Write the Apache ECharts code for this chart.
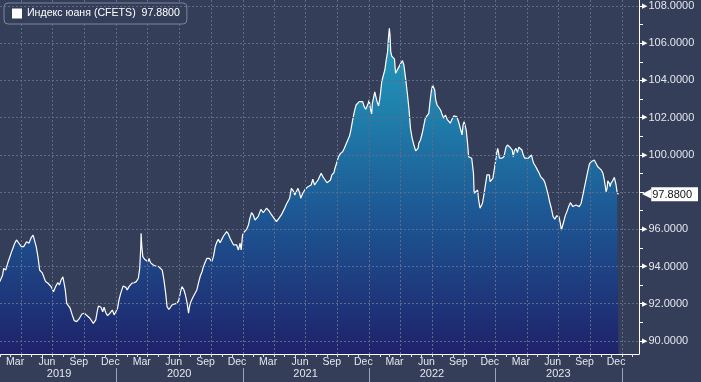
<!DOCTYPE html>
<html><head><meta charset="utf-8">
<script src="https://cdn.jsdelivr.net/npm/echarts@6/dist/echarts.min.js"></script>
<style>html,body{margin:0;padding:0;background:#353e59;}#c{width:701px;height:382px;}</style>
</head><body><div id="c"></div>
<script>
const seriesName = 'Индекс юаня (CFETS)';
const lastValue = 97.88;
const dates = [
'2019-01-30','2019-02-07','2019-02-10','2019-02-16','2019-02-23','2019-03-05','2019-03-14','2019-03-19','2019-03-26','2019-04-02','2019-04-09','2019-04-17','2019-04-24','2019-05-01','2019-05-06','2019-05-10','2019-05-15','2019-05-20','2019-05-25','2019-06-02','2019-06-06','2019-06-11','2019-06-18','2019-06-23','2019-06-27','2019-07-04','2019-07-10','2019-07-16','2019-07-21','2019-07-26','2019-07-31','2019-08-05','2019-08-07','2019-08-11','2019-08-16','2019-08-21','2019-08-27','2019-09-02','2019-09-09','2019-09-17','2019-09-24','2019-10-01','2019-10-10','2019-10-17','2019-10-27','2019-11-03','2019-11-08','2019-11-11','2019-11-18','2019-11-23','2019-11-27','2019-12-02','2019-12-07','2019-12-14','2019-12-21','2019-12-26','2019-12-31',
'2020-01-05','2020-01-09','2020-01-14','2020-01-21','2020-01-29','2020-02-02','2020-02-07','2020-02-15','2020-02-22','2020-02-28','2020-03-05','2020-03-09','2020-03-12','2020-03-13','2020-03-15','2020-03-18','2020-03-23','2020-03-28','2020-04-02','2020-04-05','2020-04-09','2020-04-14','2020-04-17','2020-04-24','2020-05-03','2020-05-13','2020-05-18','2020-05-23','2020-05-27','2020-06-01','2020-06-06','2020-06-10','2020-06-18','2020-06-25','2020-06-30','2020-07-05','2020-07-09','2020-07-14','2020-07-19','2020-07-24','2020-07-26','2020-07-28','2020-07-30','2020-08-02','2020-08-07','2020-08-12','2020-08-17','2020-08-21','2020-08-26','2020-08-31','2020-09-05','2020-09-09','2020-09-14','2020-09-19','2020-09-26','2020-10-03','2020-10-08','2020-10-13','2020-10-18','2020-10-22','2020-10-27','2020-11-01','2020-11-06','2020-11-11','2020-11-15','2020-11-20','2020-11-25','2020-11-30','2020-12-05','2020-12-10','2020-12-14','2020-12-19','2020-12-24','2020-12-27','2020-12-31',
'2021-01-05','2021-01-12','2021-01-17','2021-01-21','2021-01-26','2021-01-31','2021-02-05','2021-02-09','2021-02-14','2021-02-22','2021-03-01','2021-03-06','2021-03-10','2021-03-17','2021-03-25','2021-04-01','2021-04-08','2021-04-15','2021-04-22','2021-04-30','2021-05-07','2021-05-11','2021-05-16','2021-05-21','2021-05-26','2021-05-31','2021-06-04','2021-06-09','2021-06-14','2021-06-17','2021-06-23','2021-06-30','2021-07-08','2021-07-17','2021-07-22','2021-07-27','2021-08-01','2021-08-06','2021-08-10','2021-08-15','2021-08-20','2021-08-25','2021-09-01','2021-09-06','2021-09-11','2021-09-15','2021-09-21','2021-09-24','2021-09-30','2021-10-04','2021-10-10','2021-10-16','2021-10-21','2021-10-26','2021-10-31','2021-11-05','2021-11-09','2021-11-14','2021-11-19','2021-11-24','2021-11-28','2021-12-03','2021-12-08','2021-12-13','2021-12-18','2021-12-22','2021-12-25','2021-12-29',
'2022-01-01','2022-01-04','2022-01-08','2022-01-10','2022-01-13','2022-01-17','2022-01-20','2022-01-25','2022-01-28','2022-01-31','2022-02-03','2022-02-06','2022-02-11','2022-02-15','2022-02-19','2022-02-23','2022-02-25','2022-02-28','2022-03-02','2022-03-04','2022-03-07','2022-03-12','2022-03-15','2022-03-18','2022-03-23','2022-03-28','2022-04-02','2022-04-07','2022-04-09','2022-04-11','2022-04-16','2022-04-21','2022-04-26','2022-04-30','2022-05-05','2022-05-10','2022-05-15','2022-05-18','2022-05-22','2022-05-24','2022-05-29','2022-06-03','2022-06-08','2022-06-12','2022-06-17','2022-06-22','2022-06-25','2022-06-29','2022-07-03','2022-07-07','2022-07-09','2022-07-12','2022-07-16','2022-07-21','2022-07-26','2022-07-30','2022-08-04','2022-08-09','2022-08-14','2022-08-19','2022-08-23','2022-08-28','2022-09-02','2022-09-07','2022-09-11','2022-09-16','2022-09-21','2022-09-26','2022-09-29','2022-10-02','2022-10-05','2022-10-08','2022-10-12','2022-10-15','2022-10-20','2022-10-24','2022-10-27','2022-10-29','2022-10-31','2022-11-05','2022-11-10','2022-11-13','2022-11-17','2022-11-20','2022-11-24','2022-11-29','2022-12-04','2022-12-07','2022-12-11','2022-12-14','2022-12-16','2022-12-19','2022-12-24','2022-12-27','2022-12-31',
'2023-01-04','2023-01-07','2023-01-09','2023-01-12','2023-01-19','2023-01-25','2023-01-31','2023-02-04','2023-02-10','2023-02-13','2023-02-18','2023-02-21','2023-02-24','2023-03-01','2023-03-05','2023-03-09','2023-03-14','2023-03-18','2023-03-22','2023-03-26','2023-03-31','2023-04-05','2023-04-10','2023-04-15','2023-04-18','2023-04-21','2023-04-27','2023-05-01','2023-05-07','2023-05-11','2023-05-16','2023-05-20','2023-05-24','2023-05-28','2023-06-02','2023-06-06','2023-06-11','2023-06-16','2023-06-21','2023-06-26','2023-06-30','2023-07-03','2023-07-07','2023-07-10','2023-07-15','2023-07-18','2023-07-21','2023-07-26','2023-07-31','2023-08-05','2023-08-08','2023-08-12','2023-08-17','2023-08-21','2023-08-26','2023-08-31','2023-09-05','2023-09-10','2023-09-15','2023-09-20','2023-09-24','2023-09-29','2023-10-04','2023-10-09','2023-10-13','2023-10-18','2023-10-23','2023-10-28','2023-11-02','2023-11-07','2023-11-11','2023-11-14','2023-11-16','2023-11-19','2023-11-21','2023-11-24','2023-11-26','2023-11-28','2023-11-30','2023-12-05','2023-12-10','2023-12-12','2023-12-15','2023-12-18','2023-12-20','2023-12-22'
];
const values = [
93.19,93.55,93.90,93.81,94.26,94.80,95.25,95.43,95.25,95.07,95.07,95.33,95.25,95.57,95.69,95.64,95.07,94.53,93.81,93.64,93.67,93.19,93.10,93.19,92.92,92.65,92.92,93.13,93.01,93.28,93.45,93.55,92.74,92.02,91.93,91.76,91.40,91.09,91.04,91.22,91.45,91.49,91.34,91.22,90.95,91.13,91.66,91.88,91.81,91.57,91.81,91.52,91.36,91.49,91.66,91.40,91.57,
91.76,92.20,92.56,92.95,92.88,92.74,92.92,93.10,93.13,93.19,93.37,93.90,95.07,95.79,95.07,94.53,94.39,94.35,94.26,94.44,94.21,94.31,94.08,94.03,93.99,93.81,93.27,92.56,91.84,91.70,91.81,91.93,91.99,92.02,92.20,92.65,92.92,92.78,92.47,92.02,91.76,91.49,91.76,92.02,92.24,92.43,92.52,92.74,93.13,93.49,93.72,93.99,94.23,94.44,94.44,94.26,94.53,95.07,95.33,95.46,95.28,95.46,95.64,95.69,95.87,95.75,95.52,95.43,95.16,95.07,95.16,94.89,95.25,94.89,95.69,
95.87,96.00,96.23,96.59,96.89,96.77,96.50,96.41,96.68,97.07,96.89,96.81,97.13,97.00,96.77,96.59,96.41,96.59,96.77,97.07,97.36,97.31,97.67,98.20,98.08,97.84,97.75,98.20,97.94,97.67,97.94,98.15,98.29,98.38,98.69,98.38,98.47,98.65,98.74,99.01,98.83,98.69,98.50,98.42,98.65,98.92,99.04,99.28,99.63,99.90,100.08,100.17,100.35,100.30,100.80,101.01,101.34,101.87,102.32,102.68,102.68,102.86,102.91,102.86,102.56,102.45,102.45,102.77,
102.95,102.50,102.20,102.77,103.04,103.39,103.13,102.77,102.63,102.95,103.39,103.93,104.29,104.56,105.10,105.54,106.17,106.80,106.44,105.54,105.31,105.24,105.14,104.38,104.41,104.74,104.92,105.06,105.10,104.83,104.11,103.31,102.41,101.43,100.89,100.53,100.22,100.12,100.35,100.62,100.80,101.16,101.61,101.97,102.05,102.23,102.77,103.39,103.75,103.85,103.49,102.95,102.68,102.59,102.41,102.20,101.97,102.14,101.91,101.87,101.70,101.91,102.09,102.14,102.05,101.78,101.43,101.07,101.61,101.78,101.70,101.34,100.62,99.90,99.82,99.82,99.72,99.01,97.94,98.02,98.11,97.58,97.13,97.04,97.40,97.94,98.56,98.92,99.01,98.92,98.56,98.65,98.74,98.74,99.55,
100.08,100.35,100.17,99.82,99.82,99.90,100.41,100.53,100.44,100.35,100.26,99.90,100.22,100.35,100.12,100.41,100.35,100.26,99.99,99.82,99.90,99.82,99.82,99.99,99.72,99.55,99.36,99.22,99.01,98.83,98.74,98.65,98.47,98.20,97.84,97.48,97.13,96.68,96.54,96.72,96.82,96.68,96.32,95.96,95.96,96.50,96.72,96.95,97.22,97.43,97.40,97.22,97.31,97.31,97.22,97.22,97.40,97.84,98.29,98.74,99.10,99.51,99.63,99.69,99.72,99.67,99.36,99.28,99.19,99.01,98.65,98.29,98.02,98.20,98.61,98.65,98.44,98.29,98.47,98.61,98.79,98.83,98.38,97.97,97.97,97.88
];
const monthNames = ['Jan','Feb','Mar','Apr','May','Jun','Jul','Aug','Sep','Oct','Nov','Dec'];
const labelMonths = [3, 6, 9, 12];
const years = [2019, 2020, 2021, 2022, 2023];
const yLabelTicks = [90, 92, 94, 96, 98, 100, 102, 104, 106, 108];
const yMinorTicks = [91, 93, 95, 97, 99, 101, 103, 105, 107];

const DAY = 86400000;
function ts(s){ const p = s.split('-').map(Number); return Date.UTC(p[0], p[1]-1, p[2]); }
const base = Date.UTC(2019,0,1);
const xMin = base + 29.4*DAY, xMax = base + 1875.2*DAY;
const yMin = 89.30, yMax = 108.32;

const data = dates.map((d,i)=>[ts(d), values[i]]);
const monthStarts = [];
for (let y=2019; y<=2024; y++) for (let m=0; m<12; m++){ const t=Date.UTC(y,m,1); if(t>xMin && t<xMax) monthStarts.push(t); }
const quarterStarts = monthStarts.filter(t => new Date(t).getUTCMonth()%3===0);
const yearStarts = monthStarts.filter(t => new Date(t).getUTCMonth()===0);
const monthLabelPos = [];
years.forEach(y => labelMonths.forEach(m => monthLabelPos.push(Date.UTC(y, m-1, 15))));
const yearLabelPos = years.map(y => y===2019 ? Date.UTC(y,6,20) : Date.UTC(y,6,1));
const yLabels = yLabelTicks.filter(v => v!==98).concat([lastValue]);

const FONT = 'Liberation Sans';
const txt = '#e3e6ee';
const grid = { color: '#5f6a8a', type: [2, 2], width: 1 };
const chart = echarts.init(document.getElementById('c'));
chart.setOption({
  backgroundColor: '#353e59',
  animation: false,
  textStyle: { fontFamily: FONT },
  grid: { left: 0, right: 58, top: 0, bottom: 28 },
  legend: {
    left: 4, top: 3, padding: [5, 7, 5, 8],
    backgroundColor: '#353e59', borderColor: '#7c859c', borderWidth: 1, borderRadius: 4,
    itemWidth: 10, itemHeight: 10, itemGap: 6,
    data: [{ name: seriesName, icon: 'rect', itemStyle: { color: '#ffffff' } }],
    formatter: n => n + '  ' + lastValue.toFixed(4),
    textStyle: { color: '#ffffff', fontSize: 10.6, fontFamily: FONT }
  },
  xAxis: [
    { type: 'value', min: xMin, max: xMax, position: 'bottom', z: 4,
      axisLine: { show: true, lineStyle: { color: '#ffffff', width: 1 } },
      axisTick: { show: true, length: 3, customValues: monthStarts, lineStyle: { color: '#dfe2ea' } },
      axisLabel: { show: true, customValues: monthLabelPos, margin: 3, color: txt, fontSize: 10.5, fontFamily: FONT,
        formatter: v => monthNames[new Date(v).getUTCMonth()] },
      splitLine: { show: false } },
    { type: 'value', min: xMin, max: xMax, position: 'bottom', z: 3,
      axisLine: { show: false }, axisLabel: { show: false },
      axisTick: { show: true, length: 0, customValues: quarterStarts, lineStyle: { color: 'rgba(0,0,0,0)' } },
      splitLine: { show: true, lineStyle: grid } },
    { type: 'value', min: xMin, max: xMax, position: 'bottom', offset: 14,
      axisLine: { show: false },
      axisTick: { show: true, length: 16, customValues: yearStarts, lineStyle: { color: '#9aa2b6' } },
      axisLabel: { show: true, customValues: yearLabelPos, margin: 0, color: txt, fontSize: 11, fontFamily: FONT,
        formatter: v => String(new Date(v).getUTCFullYear()) },
      splitLine: { show: false } }
  ],
  yAxis: [
    { type: 'value', min: yMin, max: yMax, position: 'right', z: 5,
      axisLine: { show: true, lineStyle: { color: '#ffffff', width: 1 } },
      axisTick: { show: true, length: 5, customValues: yLabelTicks, lineStyle: { color: '#ffffff' } },
      axisLabel: { show: true, customValues: yLabels, margin: 3, color: txt, fontSize: 11, fontFamily: FONT,
        formatter: v => Math.abs(v - lastValue) < 1e-6 ? '{arr|◀}{box|' + v.toFixed(4) + '}' : '{tri|▶}{num|' + v.toFixed(4) + '}',
        rich: {
          tri: { color: '#ffffff', fontSize: 7, fontFamily: 'DejaVu Sans' },
          num: { color: txt, fontSize: 11, fontFamily: FONT, padding: [0,0,0,1] },
          arr: { color: '#ffffff', fontSize: 12, fontFamily: 'DejaVu Sans' },
          box: { color: '#111111', backgroundColor: '#ffffff', fontSize: 11, fontFamily: FONT, padding: [2, 6, 1, 1] }
        } },
      splitLine: { show: true, lineStyle: grid } },
    { type: 'value', min: yMin, max: yMax, position: 'right', z: 5,
      axisLine: { show: false }, axisLabel: { show: false }, splitLine: { show: false },
      axisTick: { show: true, length: 4, customValues: yMinorTicks, lineStyle: { color: '#ffffff' } } }
  ],
  series: [{
    name: seriesName, type: 'line', xAxisIndex: 0, yAxisIndex: 0, z: 2,
    data: data, symbol: 'none', color: '#ffffff',
    lineStyle: { color: '#ffffff', width: 1.2 },
    areaStyle: { opacity: 1, color: { type: 'linear', x: 0, y: 0, x2: 0, y2: 354, global: true,
      colorStops: [ { offset: 0, color: '#27a6c2' }, { offset: 0.3, color: '#1f82ad' }, { offset: 0.62, color: '#1d5592' }, { offset: 1, color: '#1f226a' } ] } }
  }]
});
</script></body></html>
